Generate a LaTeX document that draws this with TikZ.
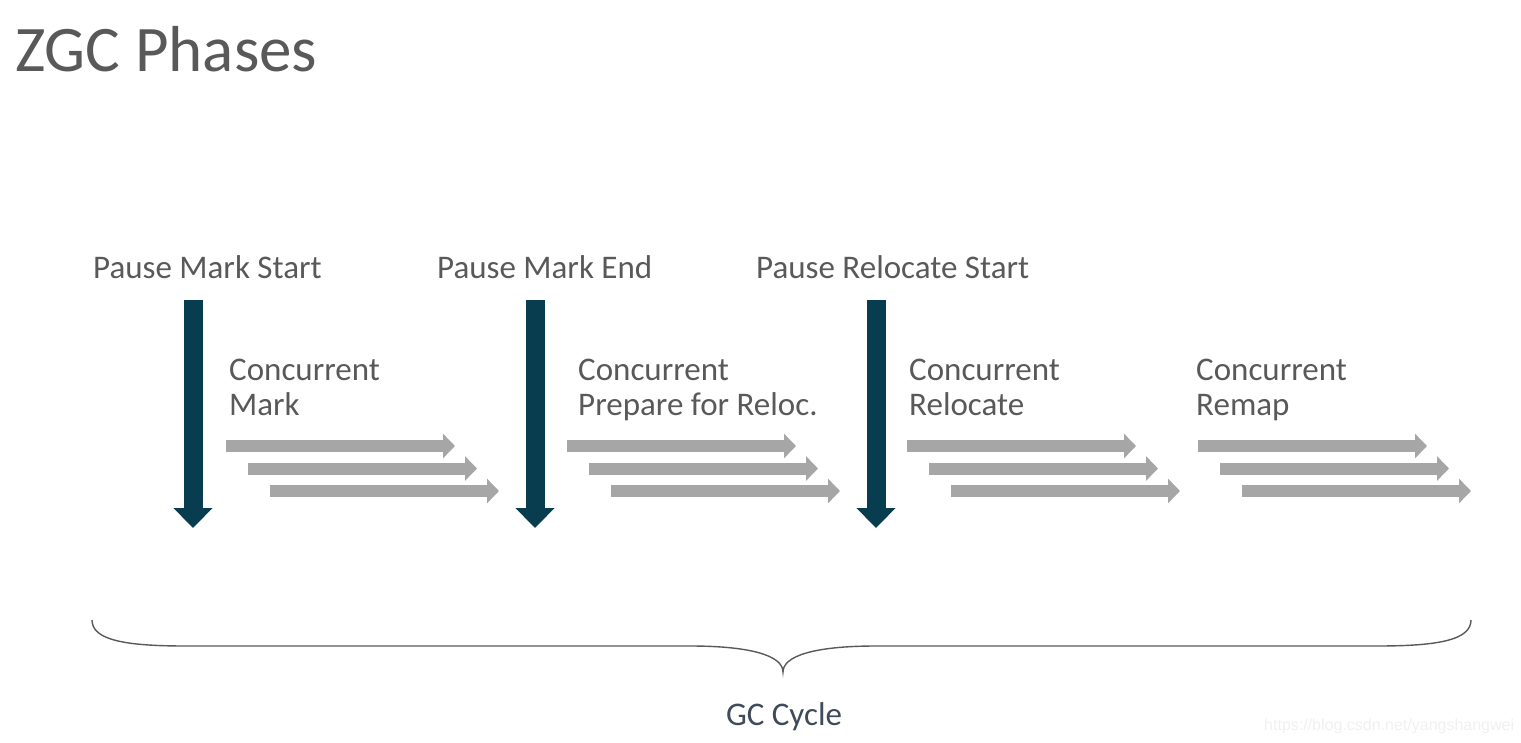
\documentclass[tikz,border=0pt]{standalone}
\usepackage{fontspec}
\setmainfont{Carlito}
\newfontfamily\wmfont{Liberation Sans}
\usetikzlibrary{arrows.meta}
\definecolor{txt}{HTML}{595959}
\definecolor{pausecol}{HTML}{073D4F}
\definecolor{conccol}{HTML}{A6A6A6}
\definecolor{cyccol}{HTML}{3F4B5A}
\definecolor{wmcol}{HTML}{F0F0F0}
\begin{document}
\begin{tikzpicture}[x=1pt,y=-1pt,
  lab/.style={font=\fontsize{33}{35}\selectfont, text=txt, inner sep=0pt, anchor=base west, align=left},
  pausearrow/.style={draw=pausecol, line width=19pt, -{Triangle[width=38pt,length=20pt]}},
  concarrow/.style={draw=conccol, line width=12pt, -{Triangle[width=24pt,length=12pt]}},
  bracestyle/.style={draw=txt, line width=1.4pt}
]
\useasboundingbox (0,0) rectangle (1521,743);

% title
\node[font=\fontsize{65}{70}\selectfont, text=txt, inner sep=0pt, anchor=base west] (title) at (15,72) {ZGC Phases};

% pause labels
\node[lab] (pms) at (93,279) {Pause Mark Start};
\node[lab] (pme) at (437,279) {Pause Mark End};
\node[lab] (prs) at (756,279) {Pause Relocate Start};

% pause arrows
\foreach \n/\x in {a/193,b/535,c/876}{
  \coordinate (p\n top) at (\x,300);
  \coordinate (p\n bot) at (\x,528);
  \draw[pausearrow] (p\n top) -- (p\n bot);
}

% concurrent labels (base = last line)
\node[lab] (cm) at (229,415) {Concurrent\\Mark};
\node[lab] (cp) at (578,415) {Concurrent\\Prepare for Reloc.};
\node[lab] (cr) at (909,415) {Concurrent\\Relocate};
\node[lab] (cx) at (1196,415) {Concurrent\\Remap};

% concurrent arrows
\foreach \g/\x in {1/226,2/567,3/907,4/1198}{
  \foreach \r in {0,1,2}{
    \coordinate (c\g s\r) at ({\x+22*\r},{446+22.5*\r});
    \coordinate (c\g e\r) at ({\x+22*\r+229},{446+22.5*\r});
    \draw[concarrow] (c\g s\r) -- (c\g e\r);
  }
}

% brace
\coordinate (bl) at (92,620);
\coordinate (br) at (1471,620);
\coordinate (bt) at (783,672);
\draw[bracestyle] (bl) .. controls (92,640) and (125,646) .. (185,646)
  -- (690,646) .. controls (752,646) and (783,656) .. (bt)
  .. controls (783,656) and (814,646) .. (876,646)
  -- (1378,646) .. controls (1438,646) and (1471,640) .. (br);

\node[font=\fontsize{33}{35}\selectfont, text=cyccol, inner sep=0pt, anchor=base] (gc) at (784,725) {GC Cycle};

% watermark
\node[font=\wmfont\fontsize{16}{18}\selectfont, text=wmcol, inner sep=0pt, anchor=base west] (wm) at (1264,730) {https://blog.csdn.net/yangshangwei};
\end{tikzpicture}
\end{document}
